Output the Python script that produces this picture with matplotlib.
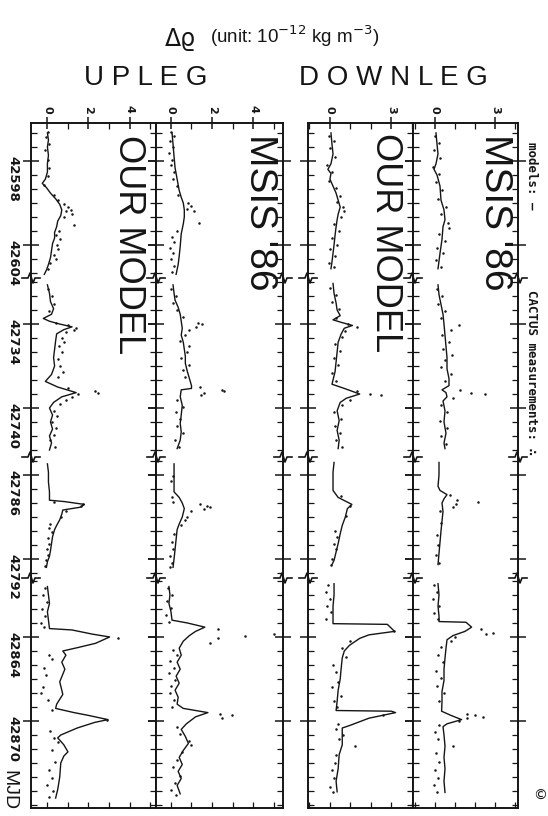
import matplotlib
matplotlib.use("Agg")
import matplotlib.pyplot as plt
from matplotlib.lines import Line2D
from matplotlib.ticker import MultipleLocator, FixedLocator

# ---- data (MJD, delta rho in 1e-12 kg m^-3) ----
SEG_RANGES = [(42595.29, 42606.36), (42730.71, 42743.5), (42784.71, 42793.36), (42859.79, 42876.21)]
MJD_TICKS = [42598, 42604, 42734, 42740, 42786, 42792, 42864, 42870]
UP_TICKS = [0, 2, 4]
DOWN_TICKS = [0, 3]

# upleg, our model
up_our_line_1 = [(42596.0, 0.0), (42596.5, 0.05), (42597.0, 0.0), (42597.6, 0.05), (42598.2, 0.0), (42598.8, 0.0),
                 (42599.3, -0.1), (42599.6, -0.25), (42599.9, -0.05), (42600.3, 0.15), (42600.7, 0.4), (42601.1, 0.6),
                 (42601.5, 0.7), (42601.9, 0.65), (42602.3, 0.5), (42602.7, 0.45), (42603.1, 0.35), (42603.5, 0.35),
                 (42603.9, 0.25), (42604.4, 0.2), (42604.9, 0.15), (42605.4, 0.05), (42605.8, -0.05), (42606.1, -0.15)]
up_our_dots_1 = [(42595.9, 0.05), (42596.3, -0.05), (42596.8, 0.1), (42597.2, -0.1), (42597.9, 0.05), (42598.5, 0.1),
                 (42599.1, 0.05), (42599.7, -0.15), (42600.4, 0.3), (42600.8, 0.5), (42601.1, 0.8), (42601.3, 1.0),
                 (42601.5, 1.15), (42601.6, 0.9), (42601.8, 1.2), (42602.0, 0.8), (42602.6, 1.3), (42603.0, 0.55),
                 (42603.3, 0.4), (42603.6, 0.6), (42604.0, 0.45), (42604.3, 0.5), (42604.7, 0.3), (42605.0, 0.4),
                 (42605.3, 0.15), (42605.7, 0.05)]
up_our_line_2 = [(42731.2, 0.0), (42731.8, 0.1), (42732.4, 0.15), (42732.9, 0.3), (42733.3, 0.2), (42733.6, -0.2),
                 (42733.8, 0.1), (42734.0, 0.6), (42734.2, 1.2), (42734.4, 0.8), (42734.7, 0.45), (42735.2, 0.4),
                 (42735.8, 0.35), (42736.4, 0.3), (42737.0, 0.35), (42737.6, 0.2), (42738.1, -0.1), (42738.5, 0.5),
                 (42738.9, 1.4), (42739.2, 0.7), (42739.6, 0.3), (42740.0, 0.1), (42740.5, 0.25), (42741.0, 0.15),
                 (42741.5, 0.25), (42742.0, 0.1), (42742.5, 0.2), (42743.0, 0.1)]
up_our_dots_2 = [(42731.5, 0.05), (42732.0, 0.2), (42732.6, 0.3), (42733.1, 0.1), (42733.9, 0.4), (42734.1, 1.0),
                 (42734.3, 1.4), (42734.4, 1.3), (42734.6, 0.9), (42735.0, 0.7), (42735.3, 0.8), (42735.6, 0.55),
                 (42736.0, 0.7), (42736.5, 0.5), (42737.0, 0.6), (42737.4, 0.75), (42737.8, 0.5), (42738.6, 1.0),
                 (42738.8, 2.3), (42738.9, 2.45), (42739.0, 1.5), (42739.2, 1.2), (42739.4, 0.9), (42739.7, 0.6),
                 (42740.2, 0.3), (42740.6, 0.45), (42741.0, 0.2), (42741.4, 0.4), (42741.9, 0.3), (42742.3, 0.15),
                 (42742.8, 0.35)]
up_our_line_3 = [(42785.2, 0.0), (42785.8, 0.05), (42786.5, 0.05), (42787.2, 0.1), (42787.8, 0.1), (42787.9, 0.85),
                 (42788.1, 1.8), (42788.3, 1.6), (42788.5, 0.75), (42788.8, 0.7), (42789.2, 0.6), (42789.6, 0.45),
                 (42789.9, 0.35), (42790.4, 0.25), (42790.9, 0.2), (42791.4, 0.15), (42791.8, 0.1), (42792.2, 0.0),
                 (42792.6, -0.05)]
up_our_dots_3 = [(42787.9, 0.3), (42788.1, 1.75), (42788.2, 1.65), (42788.6, 0.9), (42789.0, 0.65), (42789.5, 0.15),
                 (42789.8, 0.1), (42790.1, 0.2), (42790.5, 0.05), (42790.9, 0.1), (42791.3, 0.0), (42791.7, 0.05),
                 (42792.1, -0.05), (42792.5, -0.1)]
up_our_line_4 = [(42860.4, 0.0), (42861.0, 0.05), (42861.6, 0.1), (42862.2, 0.0), (42862.8, 0.05), (42863.4, 0.1),
                 (42863.5, 1.2), (42863.8, 2.2), (42864.0, 3.03), (42864.45, 2.35), (42864.75, 1.5), (42865.0, 0.75),
                 (42865.3, 0.9), (42865.8, 0.7), (42866.3, 0.85), (42867.2, 0.6), (42868.1, 0.75), (42868.8, 0.45),
                 (42869.1, 0.4), (42869.4, 1.3), (42869.6, 2.0), (42869.9, 2.95), (42870.1, 2.3), (42870.5, 1.45),
                 (42871.0, 0.65), (42871.2, 0.5), (42871.7, 0.8), (42872.2, 1.0), (42872.5, 0.8), (42873.0, 0.65),
                 (42874.0, 0.6), (42874.9, 0.5), (42875.5, 0.4)]
up_our_dots_4 = [(42860.5, -0.1), (42861.0, -0.2), (42861.5, 0.0), (42862.0, -0.25), (42862.5, -0.1), (42863.0, -0.3),
                 (42863.3, -0.15), (42864.1, 3.45), (42865.3, 0.1), (42865.6, 0.2), (42866.2, -0.15), (42866.7, -0.05),
                 (42867.6, -0.2), (42868.0, -0.3), (42868.5, 0.05), (42869.2, 0.2), (42869.9, 2.9), (42870.7, 0.15),
                 (42871.2, 0.3), (42871.5, 0.5), (42872.1, 0.2), (42872.9, 0.35), (42873.5, 0.1), (42874.1, 0.2),
                 (42874.6, 0.0), (42875.0, 0.25), (42875.4, 0.1)]

# upleg, MSIS '86
up_msis_line_1 = [(42596.0, 0.05), (42596.8, 0.1), (42597.7, 0.15), (42598.5, 0.2), (42599.3, 0.3), (42600.1, 0.4),
                  (42600.6, 0.5), (42601.0, 0.6), (42601.5, 0.65), (42602.0, 0.65), (42602.5, 0.6), (42603.2, 0.5),
                  (42604.1, 0.45), (42604.8, 0.4), (42605.4, 0.35), (42606.1, 0.25)]
up_msis_dots_1 = [(42595.9, 0.0), (42596.2, 0.15), (42596.6, -0.05), (42597.0, 0.1), (42597.4, -0.1), (42597.9, 0.05),
                  (42598.3, 0.0), (42598.8, 0.15), (42599.3, 0.1), (42599.8, 0.3), (42600.4, 0.35), (42601.0, 0.85),
                  (42601.2, 1.0), (42601.4, 0.8), (42601.6, 1.1), (42602.4, 1.35), (42603.0, 0.3), (42603.4, 0.05),
                  (42603.8, 0.15), (42604.2, -0.05), (42604.6, 0.1), (42605.0, 0.0), (42605.5, 0.15), (42605.9, 0.05)]
up_msis_line_2 = [(42731.2, 0.1), (42731.8, 0.15), (42732.3, 0.2), (42732.8, 0.35), (42733.3, 0.45), (42733.8, 0.5),
                  (42734.3, 0.55), (42734.8, 0.5), (42735.3, 0.6), (42735.8, 0.65), (42736.3, 0.7), (42736.8, 0.7),
                  (42737.4, 0.8), (42737.9, 0.9), (42738.4, 1.0), (42738.6, 1.0), (42738.7, 0.5), (42739.2, 0.45),
                  (42739.8, 0.55), (42740.5, 0.5), (42741.1, 0.45), (42741.7, 0.5), (42742.3, 0.45), (42742.9, 0.3)]
up_msis_dots_2 = [(42731.5, 0.0), (42732.0, 0.25), (42732.5, 0.1), (42733.0, 0.3), (42733.5, 0.6), (42733.9, 1.3),
                  (42734.0, 1.5), (42734.2, 1.2), (42734.4, 0.9), (42734.8, 0.7), (42735.2, 0.45), (42735.6, 0.9),
                  (42736.0, 0.8), (42736.4, 0.5), (42736.9, 0.9), (42737.3, 0.6), (42737.8, 0.7), (42738.5, 1.4),
                  (42738.7, 2.5), (42738.8, 2.6), (42738.9, 1.6), (42739.1, 1.45), (42739.4, 0.3), (42739.9, 0.6),
                  (42740.3, 0.25), (42740.8, 0.45), (42741.3, 0.3), (42741.8, 0.6), (42742.3, 0.2), (42742.8, 0.4)]
up_msis_line_3 = [(42785.2, 0.15), (42786.0, 0.15), (42786.7, 0.15), (42787.2, 0.15), (42787.6, 0.4), (42788.0, 0.55),
                  (42788.4, 0.65), (42789.0, 0.55), (42789.5, 0.4), (42789.9, 0.3), (42790.6, 0.25), (42791.3, 0.2),
                  (42792.0, 0.15), (42792.6, 0.1)]
up_msis_dots_3 = [(42786.1, 0.1), (42786.4, 0.0), (42787.6, 0.05), (42787.9, 0.1), (42788.1, 1.4), (42788.2, 1.75),
                  (42788.3, 1.9), (42788.4, 1.6), (42788.6, 1.0), (42789.0, 0.8), (42789.2, 0.7), (42789.6, 0.5),
                  (42790.2, 0.15), (42790.8, 0.05), (42791.3, 0.1), (42791.8, -0.05), (42792.3, 0.05), (42792.6, -0.05)]
up_msis_line_4 = [(42860.4, -0.1), (42861.0, -0.05), (42861.6, -0.1), (42862.2, 0.0), (42862.8, 0.05), (42863.0, 0.8),
                  (42863.3, 1.65), (42863.6, 1.2), (42863.9, 0.9), (42864.3, 0.6), (42864.8, 0.4), (42865.3, 0.5),
                  (42865.8, 0.3), (42866.3, 0.45), (42866.8, 0.25), (42867.3, 0.4), (42867.8, 0.2), (42868.3, 0.35),
                  (42868.8, 0.3), (42869.1, 0.6), (42869.4, 1.8), (42869.7, 1.2), (42870.2, 0.75), (42870.6, 0.5),
                  (42871.1, 0.7), (42871.6, 0.85), (42872.1, 0.6), (42872.6, 0.4), (42873.1, 0.55), (42873.6, 0.35),
                  (42874.1, 0.5), (42874.6, 0.3), (42875.2, 0.45)]
up_msis_dots_4 = [(42860.5, -0.15), (42861.0, 0.05), (42861.4, -0.2), (42861.9, 0.0), (42862.4, -0.25), (42862.9, -0.1),
                  (42863.4, 2.3), (42863.9, 3.6), (42863.8, 5.0), (42864.1, 2.3), (42864.4, 1.9), (42864.9, 0.1),
                  (42865.3, 0.3), (42865.7, -0.05), (42866.2, 0.15), (42866.6, -0.1), (42867.1, 0.2), (42867.5, 0.0),
                  (42868.0, -0.05), (42868.5, 0.15), (42869.0, 0.05), (42869.5, 2.4), (42869.6, 2.95), (42869.8, 2.5),
                  (42870.4, 0.3), (42870.9, 0.45), (42871.4, 0.9), (42871.7, 1.0), (42872.2, 0.55), (42872.8, 0.3),
                  (42873.3, 0.1), (42873.9, 0.45), (42874.4, 0.2), (42874.9, 0.0), (42875.3, 0.25)]

# downleg, our model
down_our_line_1 = [(42596.0, 0.05), (42596.8, 0.1), (42597.5, 0.15), (42598.2, 0.05), (42598.6, -0.1), (42598.9, 0.05),
                   (42599.3, 0.0), (42599.8, 0.15), (42600.3, 0.3), (42600.8, 0.4), (42601.3, 0.5), (42601.8, 0.4),
                   (42602.2, 0.35), (42602.7, 0.3), (42603.3, 0.25), (42604.0, 0.2), (42604.6, 0.15), (42605.2, 0.1),
                   (42605.7, 0.05)]
down_our_dots_1 = [(42596.2, -0.05), (42596.6, 0.2), (42597.1, 0.0), (42597.7, 0.25), (42598.3, -0.15), (42598.8, 0.1),
                   (42599.4, -0.05), (42599.9, 0.3), (42600.5, 0.5), (42600.9, 0.35), (42601.3, 0.65), (42601.6, 0.7),
                   (42602.0, 0.55), (42602.5, 0.2), (42603.0, 0.45), (42603.5, 0.1), (42604.0, 0.35), (42604.3, 0.0),
                   (42604.8, 0.25), (42605.3, -0.05), (42605.6, 0.2)]
down_our_line_2 = [(42731.1, 0.15), (42731.8, 0.2), (42732.5, 0.3), (42733.0, 0.35), (42733.4, 0.5), (42733.7, 0.15),
                   (42733.9, 0.6), (42734.1, 1.1), (42734.3, 0.7), (42734.7, 0.55), (42735.3, 0.4), (42736.0, 0.35),
                   (42736.7, 0.3), (42737.4, 0.25), (42738.0, 0.15), (42738.3, 0.1), (42738.6, 0.7), (42739.0, 1.45),
                   (42739.3, 0.8), (42739.6, 0.5), (42740.2, 0.35), (42740.9, 0.45), (42741.6, 0.35), (42742.3, 0.45),
                   (42742.9, 0.4)]
down_our_dots_2 = [(42731.4, 0.0), (42731.9, 0.3), (42732.4, 0.1), (42732.9, 0.45), (42733.6, 0.3), (42734.0, 0.9),
                   (42734.2, 1.3), (42734.5, 0.75), (42734.9, 0.6), (42735.4, 0.25), (42735.9, 0.5), (42736.4, 0.2),
                   (42736.9, 0.4), (42737.5, 0.1), (42738.1, 0.3), (42738.8, 1.3), (42739.0, 1.95), (42739.1, 2.5),
                   (42739.4, 1.0), (42739.8, 0.6), (42740.3, 0.2), (42740.8, 0.55), (42741.3, 0.25), (42741.8, 0.5),
                   (42742.3, 0.3), (42742.8, 0.6)]
down_our_line_3 = [(42785.1, 0.2), (42785.8, 0.15), (42786.5, 0.15), (42787.1, 0.15), (42787.6, 0.4), (42788.1, 1.07),
                   (42788.4, 0.85), (42789.0, 0.75), (42789.6, 0.6), (42790.2, 0.5), (42790.9, 0.4), (42791.5, 0.3),
                   (42792.1, 0.2), (42792.4, 0.1)]
down_our_dots_3 = [(42787.5, 0.55), (42788.2, 1.0), (42788.9, 0.8), (42790.0, 0.25), (42790.4, 0.35), (42790.9, 0.2),
                   (42791.3, 0.3), (42792.0, 0.1), (42792.4, 0.05)]
down_our_line_4 = [(42860.2, 0.2), (42861.0, 0.2), (42861.8, 0.15), (42862.5, 0.15), (42863.05, 0.15), (42863.1, 2.8),
                   (42863.6, 3.15), (42863.85, 1.9), (42864.1, 1.45), (42864.6, 0.95), (42865.0, 0.7), (42865.5, 0.6),
                   (42866.2, 0.55), (42867.0, 0.5), (42867.8, 0.4), (42868.6, 0.35), (42869.25, 0.3), (42869.3, 3.0),
                   (42869.4, 3.2), (42869.8, 1.9), (42870.3, 1.0), (42870.5, 0.6), (42871.1, 0.6), (42871.7, 0.6),
                   (42872.4, 0.45), (42873.4, 0.4), (42874.3, 0.3), (42875.05, 0.35)]
down_our_dots_4 = [(42860.3, -0.1), (42860.8, -0.2), (42861.3, 0.0), (42861.8, -0.15), (42862.2, 0.05), (42862.7, -0.2),
                   (42863.6, 3.1), (42864.3, 1.0), (42864.8, 0.6), (42865.4, 0.8), (42866.0, 0.15), (42866.5, 0.3),
                   (42867.2, 0.4), (42867.6, 0.1), (42868.2, 0.55), (42868.6, 0.2), (42869.0, 0.35), (42869.6, 2.6),
                   (42870.2, 0.4), (42870.6, 0.3), (42871.0, 0.65), (42871.3, 0.45), (42871.8, 1.2), (42872.4, 0.3),
                   (42873.0, 0.25), (42873.5, 0.1), (42874.1, 0.2), (42874.7, 0.0), (42875.1, 0.15)]

# downleg, MSIS '86
down_msis_line_1 = [(42596.0, 0.05), (42596.8, 0.1), (42597.5, 0.15), (42598.2, 0.05), (42598.6, -0.05), (42599.0, 0.1),
                    (42599.8, 0.25), (42600.8, 0.3), (42601.5, 0.45), (42602.2, 0.5), (42602.7, 0.4), (42603.6, 0.35),
                    (42604.6, 0.25), (42605.7, 0.15)]
down_msis_dots_1 = [(42596.2, 0.0), (42596.7, 0.2), (42597.2, -0.05), (42597.8, 0.25), (42598.4, -0.1), (42598.9, 0.2),
                    (42599.5, 0.05), (42600.1, 0.35), (42600.7, 0.15), (42601.3, 0.55), (42601.8, 0.3), (42602.4, 0.65),
                    (42602.8, 0.7), (42603.2, 0.2), (42603.7, 0.5), (42604.2, 0.1), (42604.6, 0.4), (42605.1, 0.05),
                    (42605.6, 0.3)]
down_msis_line_2 = [(42731.2, 0.15), (42731.9, 0.2), (42732.6, 0.3), (42733.3, 0.4), (42734.0, 0.45), (42734.8, 0.5),
                    (42735.6, 0.55), (42736.4, 0.6), (42737.2, 0.6), (42737.9, 0.7), (42738.4, 0.7), (42738.7, 0.35),
                    (42738.9, 0.55), (42739.2, 0.6), (42739.5, 0.4), (42740.2, 0.5), (42741.0, 0.45), (42741.8, 0.55),
                    (42742.5, 0.45), (42742.9, 0.5)]
down_msis_dots_2 = [(42731.5, 0.1), (42732.0, 0.35), (42732.6, 0.15), (42733.1, 0.5), (42733.6, 0.3), (42734.1, 1.2),
                    (42734.4, 0.8), (42734.8, 0.35), (42735.3, 0.7), (42735.8, 0.4), (42736.2, 0.85), (42736.6, 0.5),
                    (42737.1, 0.3), (42737.6, 0.8), (42738.1, 0.5), (42738.7, 1.25), (42738.9, 1.8), (42739.0, 2.5),
                    (42739.3, 0.9), (42739.8, 0.3), (42740.3, 0.6), (42740.9, 0.25), (42741.4, 0.6), (42742.0, 0.3),
                    (42742.6, 0.55)]
down_msis_line_3 = [(42785.1, 0.2), (42786.0, 0.2), (42786.8, 0.15), (42787.1, 0.25), (42787.4, 0.6), (42787.7, 0.45),
                    (42788.0, 0.35), (42788.6, 0.4), (42789.3, 0.35), (42790.0, 0.3), (42790.8, 0.25), (42791.6, 0.2),
                    (42792.4, 0.15)]
down_msis_dots_3 = [(42787.4, 0.75), (42787.8, 1.1), (42787.9, 2.15), (42788.1, 1.05), (42788.3, 0.9), (42788.6, 0.25),
                    (42789.4, 0.3), (42790.3, 0.1), (42791.0, 0.15), (42791.7, 0.05), (42792.3, 0.2)]
down_msis_line_4 = [(42860.2, 0.15), (42861.0, 0.2), (42861.8, 0.15), (42862.5, 0.2), (42862.9, 0.2), (42862.95, 1.55),
                    (42863.3, 1.83), (42863.6, 1.5), (42863.9, 0.9), (42864.2, 0.6), (42864.8, 0.55), (42865.5, 0.5),
                    (42866.3, 0.45), (42867.1, 0.45), (42867.9, 0.35), (42868.6, 0.35), (42869.3, 0.33), (42869.6, 0.8),
                    (42869.9, 1.33), (42870.2, 0.6), (42870.4, 0.4), (42871.0, 0.45), (42871.8, 0.5), (42872.6, 0.45),
                    (42873.4, 0.5), (42874.3, 0.45), (42875.1, 0.5)]
down_msis_dots_4 = [(42860.3, -0.05), (42860.8, 0.1), (42861.3, -0.1), (42861.8, 0.2), (42862.3, -0.05), (42862.7, 0.15),
                    (42863.4, 2.3), (42863.7, 2.9), (42863.8, 2.55), (42864.0, 1.0), (42864.3, 0.8), (42864.7, 0.3),
                    (42865.3, 0.15), (42865.8, 0.4), (42866.4, 0.05), (42866.9, 0.3), (42867.5, 0.1), (42868.0, 0.45),
                    (42868.6, 0.2), (42869.5, 1.6), (42869.6, 2.0), (42869.7, 2.4), (42869.8, 1.6), (42870.0, 1.2),
                    (42870.3, 0.2), (42870.8, 0.0), (42871.3, 0.15), (42871.8, 0.9), (42872.3, 0.05), (42872.9, 0.2),
                    (42873.5, 0.0), (42874.1, 0.15), (42874.6, -0.05), (42875.1, 0.1)]

# ---- layout (pixel boxes of the scanned figure) ----
W, H = 548, 816
INK = "#151515"
col_px = [(31, 156), (156, 283), (308, 413), (413, 518)]
row_px = [(123, 278), (278, 457), (457, 578), (578, 808)]
col_xlim = [(-0.80, 5.29), (-0.73, 5.46), (-1.07, 4.05), (-1.10, 4.15)]
col_ticks = [UP_TICKS, UP_TICKS, DOWN_TICKS, DOWN_TICKS]
columns = [
    ([up_our_line_1, up_our_line_2, up_our_line_3, up_our_line_4],
     [up_our_dots_1, up_our_dots_2, up_our_dots_3, up_our_dots_4]),
    ([up_msis_line_1, up_msis_line_2, up_msis_line_3, up_msis_line_4],
     [up_msis_dots_1, up_msis_dots_2, up_msis_dots_3, up_msis_dots_4]),
    ([down_our_line_1, down_our_line_2, down_our_line_3, down_our_line_4],
     [down_our_dots_1, down_our_dots_2, down_our_dots_3, down_our_dots_4]),
    ([down_msis_line_1, down_msis_line_2, down_msis_line_3, down_msis_line_4],
     [down_msis_dots_1, down_msis_dots_2, down_msis_dots_3, down_msis_dots_4]),
]

plt.rcParams['font.family'] = ['Liberation Sans', 'DejaVu Sans']
fig = plt.figure(figsize=(W / 100, H / 100), dpi=100)


def fx(px):
    return px / W


def fy(py):
    return 1 - py / H


for c, (x0, x1) in enumerate(col_px):
    lines, dots = columns[c]
    for r, (y0, y1) in enumerate(row_px):
        ax = fig.add_axes([fx(x0), fy(y1), fx(x1) - fx(x0), fy(y0) - fy(y1)])
        t0, t1 = SEG_RANGES[r]
        ax.set_xlim(*col_xlim[c])
        ax.set_ylim(t1, t0)

        lt = [p[0] for p in lines[r]]
        lv = [p[1] for p in lines[r]]
        ax.plot(lv, lt, color=INK, lw=1.0)
        dt = [p[0] for p in dots[r]]
        dv = [p[1] for p in dots[r]]
        ax.plot(dv, dt, 'o', color=INK, ms=1.8, mew=0)

        for s in ax.spines.values():
            s.set_linewidth(1.4)
            s.set_color(INK)
        ax.spines['top'].set_visible(r == 0)
        ax.spines['bottom'].set_visible(r == 3)

        # time axis (vertical)
        ax.yaxis.set_major_locator(FixedLocator([m for m in MJD_TICKS if t0 < m < t1]))
        ax.yaxis.set_minor_locator(MultipleLocator(1))
        ax.tick_params(axis='y', which='minor', direction='in', length=4.3, width=0.9,
                       left=True, right=True, color=INK)
        ax.tick_params(axis='y', which='major', direction='inout', length=11, width=1.1,
                       left=True, right=True, labelleft=(c == 0), labelright=False,
                       pad=2.5, color=INK, labelcolor=INK)
        if c == 0:
            ax.set_yticklabels([str(m) for m in ax.get_yticks()])
            for lab in ax.get_yticklabels():
                lab.set_rotation(270)
                lab.set_fontsize(9.5)
                lab.set_fontweight('bold')
                lab.set_family('DejaVu Sans')

        # delta rho axis (horizontal)
        if r == 0:
            ax.xaxis.set_ticks_position('top')
            ax.xaxis.set_major_locator(FixedLocator(col_ticks[c]))
            ax.xaxis.set_minor_locator(MultipleLocator(1))
            ax.tick_params(axis='x', which='major', direction='inout', length=9, width=1.1,
                           top=True, bottom=False, labeltop=True, labelbottom=False,
                           pad=2.5, color=INK, labelcolor=INK, labelsize=8)
            ax.tick_params(axis='x', which='minor', direction='in', length=4.3, width=0.9,
                           top=True, bottom=False, color=INK)
            ax.set_xticklabels([str(v) for v in col_ticks[c]], rotation=270,
                               fontweight='bold', family='DejaVu Sans')
        elif r == 3:
            ax.xaxis.set_major_locator(MultipleLocator(1))
            ax.tick_params(axis='x', which='major', direction='in', length=4.3, width=0.9,
                           top=False, bottom=True, labelbottom=False, color=INK)
        else:
            ax.set_xticks([])

# break marks on every vertical line at the segment joins
zig_dx = [-9, -3, -1, 2, 4, 9]
zig_dy = [0, 0, -5, 5, 0, 0]
for xb in [31, 156, 283, 308, 413, 518]:
    for yb in [278, 457, 578]:
        fig.add_artist(Line2D([fx(xb + d) for d in zig_dx], [fy(yb + d) for d in zig_dy],
                              transform=fig.transFigure, color=INK, lw=1.2))

# texts
fig.text(fx(180), fy(39), "Δϱ", fontsize=17, ha='center', va='center', color=INK,
         family='DejaVu Sans')
fig.text(fx(295), fy(36), r"(unit: 10$^{-12}$ kg m$^{-3}$)", fontsize=13.5, ha='center',
         va='center', color=INK)
fig.text(fx(146), fy(78), "U P L E G", fontsize=20, ha='center', va='center', color=INK)
fig.text(fx(393), fy(78), "D O W N L E G", fontsize=20, ha='center', va='center', color=INK)

fig.text(fx(260), fy(212), "MSIS '86", fontsize=28, rotation=270, ha='center', va='center', color=INK)
fig.text(fx(495), fy(212), "MSIS '86", fontsize=28, rotation=270, ha='center', va='center', color=INK)
fig.text(fx(128), fy(245), "OUR MODEL", fontsize=26, rotation=270, ha='center', va='center', color=INK)
fig.text(fx(386), fy(243), "OUR MODEL", fontsize=26, rotation=270, ha='center', va='center', color=INK)

fig.text(fx(532), fy(176), "models: —", fontsize=9, rotation=270, ha='center', va='center',
         color=INK, family='DejaVu Sans Mono', fontweight='bold')
fig.text(fx(532), fy(373), "CACTUS measurements: ∴", fontsize=9, rotation=270, ha='center',
         va='center', color=INK, family='DejaVu Sans Mono', fontweight='bold')
fig.text(fx(9), fy(790), "MJD", fontsize=14, rotation=270, ha='center', va='center', color=INK)
fig.text(fx(540), fy(796), "©", fontsize=10, ha='center', va='center', color=INK,
         family='DejaVu Sans')

fig.savefig("out.png", dpi=100, facecolor='white')
